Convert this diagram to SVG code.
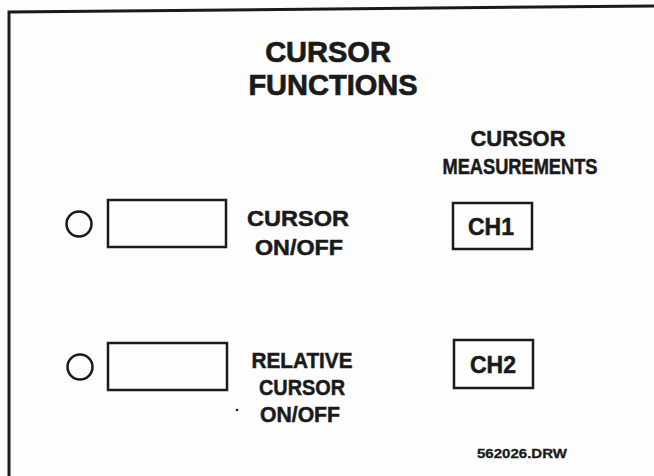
<svg xmlns="http://www.w3.org/2000/svg" width="654" height="476" viewBox="0 0 654 476">
<style>
.t{font-family:"Liberation Sans",Arial,sans-serif;font-weight:bold;fill:#1a1a1a;stroke:#1a1a1a;stroke-width:0.5;text-anchor:middle}
.ttl{font-size:29px;stroke-width:0.7}
.lbl{font-size:22px}
.ch{font-size:23px}
.ft{font-size:13px;stroke-width:0.3}
.box{fill:none;stroke:#1a1a1a;stroke-width:2.5}
.frame{fill:none;stroke:#1a1a1a;stroke-width:3}
</style>
<rect width="654" height="476" fill="#fdfdfd"/>
<g id="frame"><path class="frame" d="M9,476 L9,12 L330,9 L654,6"/></g>
<g id="title"><text class="t ttl" x="328" y="62">CURSOR</text><text class="t ttl" x="333" y="95">FUNCTIONS</text></g>
<g id="meas-title"><text class="t lbl" x="518" y="146" textLength="95" lengthAdjust="spacingAndGlyphs">CURSOR</text><text class="t lbl" x="520" y="174" textLength="155" lengthAdjust="spacingAndGlyphs">MEASUREMENTS</text></g>
<g id="led1"><circle class="box" cx="79" cy="224" r="12.5"/></g>
<g id="btn1"><rect class="box" x="108" y="200" width="118" height="47"/></g>
<g id="lbl1"><text class="t lbl" x="298" y="226" textLength="102" lengthAdjust="spacingAndGlyphs">CURSOR</text><text class="t lbl" x="299" y="255" textLength="88" lengthAdjust="spacingAndGlyphs">ON/OFF</text></g>
<g id="ch1"><rect class="box" x="453" y="203" width="79" height="46"/><text class="t ch" x="491" y="235">CH1</text></g>
<g id="led2"><circle class="box" cx="80" cy="367" r="12.5"/></g>
<g id="btn2"><rect class="box" x="108" y="343" width="119" height="47"/></g>
<g id="lbl2"><text class="t lbl" x="302" y="368" textLength="101" lengthAdjust="spacingAndGlyphs">RELATIVE</text><text class="t lbl" x="302" y="395" textLength="86" lengthAdjust="spacingAndGlyphs">CURSOR</text><text class="t lbl" x="300" y="422" textLength="80" lengthAdjust="spacingAndGlyphs">ON/OFF</text><circle cx="237" cy="410" r="1.3" fill="#1a1a1a"/></g>
<g id="ch2"><rect class="box" x="454" y="340" width="79" height="48"/><text class="t ch" x="493" y="373">CH2</text></g>
<g id="footer"><text class="t ft" x="522" y="458" textLength="90" lengthAdjust="spacingAndGlyphs">562026.DRW</text></g>
<g id="connectors"/>
</svg>
